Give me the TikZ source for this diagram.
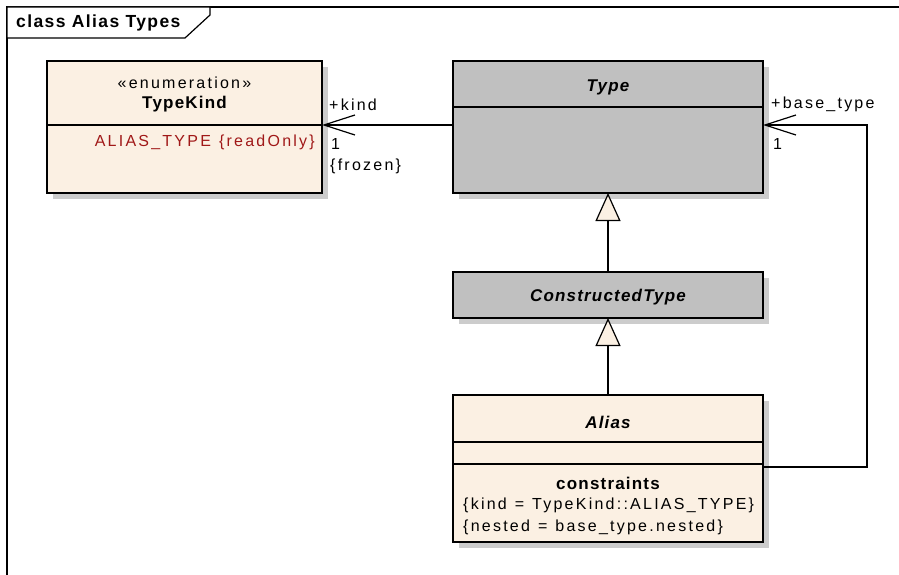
\documentclass[tikz,border=0pt]{standalone}
\usepackage{fontspec}
\setmainfont{Liberation Sans}
\newfontfamily\eareg[LetterSpace=14,WordSpace=1.2]{Liberation Sans}
\newfontfamily\eabold[LetterSpace=7]{Liberation Sans}
\newfontfamily\eatitle[LetterSpace=8]{Liberation Sans}
\usetikzlibrary{arrows.meta,shadows}
\definecolor{cream}{RGB}{251,240,227}
\definecolor{umlgrey}{RGB}{192,192,192}
\definecolor{attrred}{RGB}{160,24,24}
\definecolor{shadowgrey}{RGB}{204,204,204}
\tikzset{
  umlbox/.style={draw, line width=1.2pt, anchor=north west, inner sep=0pt, outer sep=0pt,
    drop shadow={shadow xshift=6pt, shadow yshift=-6pt, fill=shadowgrey, opacity=1}},
  divider/.style={line width=1.2pt},
  assoc/.style={line width=1.2pt, -{Straight Barb[length=31pt,width=20pt,line width=1.2pt]}},
  gen/.style={line width=1.2pt, -{Triangle[length=28pt,width=25pt,fill=cream,line width=1.2pt]}},
  regtext/.style={inner sep=0pt, font=\fontsize{16}{19}\eareg},
  boldtext/.style={inner sep=0pt, font=\fontsize{17}{19}\eabold\bfseries},
  titletext/.style={inner sep=0pt, font=\fontsize{17.5}{19}\eatitle\bfseries},
  bitext/.style={inner sep=0pt, font=\fontsize{17}{19}\eabold\bfseries\itshape},
}
\begin{document}
\begin{tikzpicture}[x=1pt,y=-1pt]
\useasboundingbox (0,0) rectangle (899,575);
% frame
\draw[line width=1.2pt] (7,575) -- (7,7) -- (899,7);
\draw[line width=1.2pt, fill=white] (7,7) -- (210,7) -- (210,15) -- (185,38) -- (7,38) -- cycle;
\node[titletext, anchor=west] (title) at (16,23) {class Alias Types};
% boxes
\node[umlbox, fill=cream, minimum width=275pt, minimum height=132pt] (kind) at (47,61) {};
\node[umlbox, fill=umlgrey, minimum width=310pt, minimum height=132pt] (type) at (453,61) {};
\node[umlbox, fill=umlgrey, minimum width=310pt, minimum height=46pt] (ctype) at (453,272) {};
\node[umlbox, fill=cream, minimum width=310pt, minimum height=147pt] (alias) at (453,395) {};
% dividers
\draw[divider] (kind.west |- 0,125) -- (kind.east |- 0,125);
\draw[divider] (type.west |- 0,107) -- (type.east |- 0,107);
\draw[divider] (alias.west |- 0,442) -- (alias.east |- 0,442);
\draw[divider] (alias.west |- 0,464) -- (alias.east |- 0,464);
% texts in boxes
\node[regtext] (kst) at (184.5,83) {«enumeration»};
\node[boldtext] (kname) at (184.5,104) {TypeKind};
\node[regtext, anchor=east, text=attrred] (kattr) at (315,142) {ALIAS\_TYPE \{readOnly\}};
\node[bitext] (tname) at (608,87) {Type};
\node[bitext] (cname) at (608,297) {ConstructedType};
\node[bitext] (aname) at (608,422) {Alias};
\node[boldtext] (acons) at (608,483) {constraints};
\node[regtext, anchor=west] (ac1) at (463,505) {\{kind = TypeKind::ALIAS\_TYPE\}};
\node[regtext, anchor=west] (ac2) at (463,527) {\{nested = base\_type.nested\}};
% connectors
\draw[assoc] (type.west |- 0,125) -- (kind.east |- 0,125);
\draw[gen] (ctype.north) -- (type.south);
\draw[gen] (alias.north) -- (ctype.south);
\coordinate (c1) at (867,467);
\coordinate (c2) at (867,125);
\draw[assoc] (alias.east |- c1) -- (c1) -- (c2) -- (type.east |- c2);
% association labels
\node[regtext, anchor=west] (lkind) at (329,105) {+kind};
\node[regtext, anchor=west] (lk1) at (331,144) {1};
\node[regtext, anchor=west] (lfroz) at (330,166) {\{frozen\}};
\node[regtext, anchor=west] (lbase) at (771,104) {+base\_type};
\node[regtext, anchor=west] (lb1) at (773,144) {1};
\end{tikzpicture}
\end{document}
